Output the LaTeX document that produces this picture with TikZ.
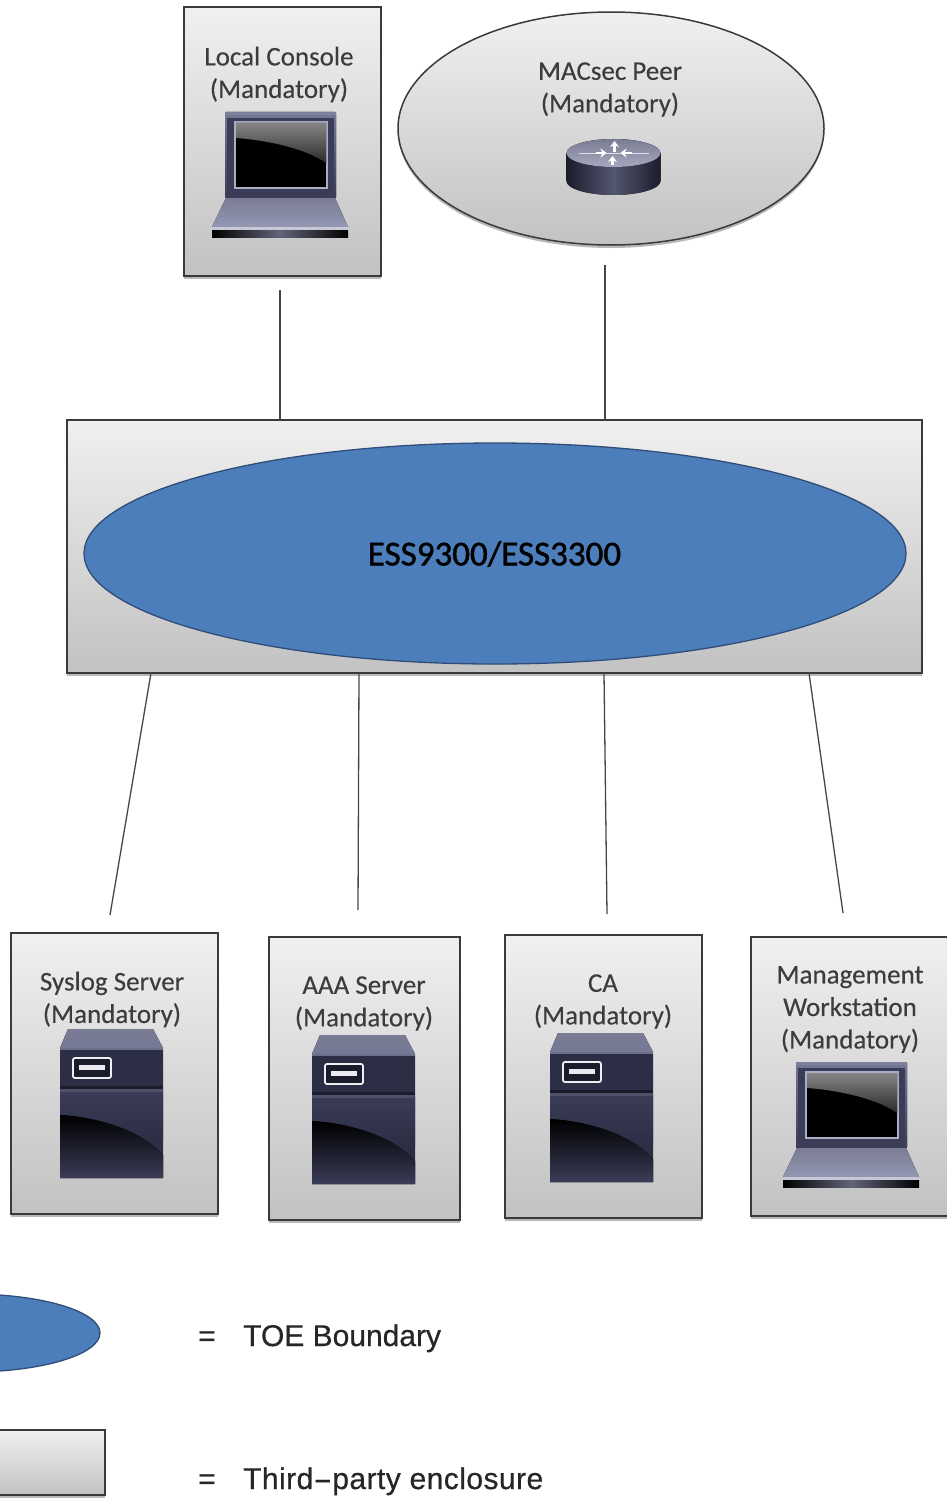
\documentclass[tikz,border=0pt]{standalone}
\usepackage{fontspec}
\usepackage{graphicx}
\setmainfont{Carlito}
\newfontfamily\legendfont[FakeBold=0.5]{Liberation Sans}
\newfontfamily\legendwide[FakeBold=0.5,LetterSpace=1.5]{Liberation Sans}
\newfontfamily\essfont[FakeBold=1.2]{Carlito}
\newfontfamily\labelfont[FakeBold=0.25]{Carlito}
\usetikzlibrary{shapes.geometric,shadows,arrows.meta}
\definecolor{edgegray}{HTML}{3A3A3A}
\definecolor{linegray}{HTML}{474747}
\definecolor{toeblue}{HTML}{4C7EBC}
\definecolor{toeedge}{HTML}{2F4D78}
\definecolor{encltop}{HTML}{F0F0F0}
\definecolor{enclbot}{HTML}{C2C2C2}
\definecolor{labelgray}{HTML}{3C3C3C}
\definecolor{devframe}{HTML}{3B3D58}
\definecolor{devlight}{HTML}{8F92AE}
\definecolor{devdark}{HTML}{1B1C2B}
\definecolor{devmid}{HTML}{2C2E45}
\definecolor{glasstop}{HTML}{858585}
\definecolor{glassbot}{HTML}{2A2A2A}
\tikzset{
  softshadow/.style={drop shadow={shadow xshift=0pt,shadow yshift=-3pt,opacity=.28,fill=black}},
  enclosure/.style={rectangle,draw=edgegray,line width=1.5pt,top color=encltop,bottom color=enclbot,
     inner sep=0pt,outer sep=0pt,anchor=north west,softshadow},
  toe/.style={ellipse,draw=toeedge,line width=1.3pt,fill=toeblue,inner sep=0pt,outer sep=0pt},
  peer/.style={ellipse,draw=edgegray,line width=1.5pt,top color=encltop,bottom color=enclbot,inner sep=0pt,outer sep=0pt,softshadow},
  boxlabel/.style={text=labelgray,font=\labelfont\fontsize{27}{32.5}\selectfont,align=center,inner sep=0pt},
  link/.style={draw=linegray,line width=1.3pt},
  legendtext/.style={text=black!85,font=\legendfont\fontsize{30}{32}\selectfont,anchor=base west,inner sep=0pt},
  laptop/.pic={
    % lid
    \fill[top color=devlight!70!devframe,bottom color=devframe,rounded corners=1pt] (0,0) rectangle (111,86);
    \fill[devframe] (2,6) rectangle (109,86);
    \fill[devlight!80!devframe] (0,0) rectangle (111,3);
    % screen bezel and glass
    \draw[devlight!75!white,line width=1.6pt,fill=black] (10,10) rectangle (102,76);
    \fill[top color=glasstop,bottom color=glassbot] (11,11) -- (101,11) -- (101,51) .. controls (80,36) and (40,28) .. (11,26) -- cycle;
    % keyboard deck
    \fill[top color=devlight!85!black,bottom color=devlight!95!white] (1,86) -- (110,86) -- (123,115) -- (-13,115) -- cycle;
    \fill[devlight!50!white] (-13,115) rectangle (123,118);
    \fill[left color=black,right color=black,middle color=devframe!80!white] (-13,118) rectangle (123,125);
  },
  server/.pic={
    % top face
    \fill[top color=devlight!85!black,bottom color=devlight!70!devframe] (8,0) -- (93,0) -- (103,19) -- (0,19) -- cycle;
    % body
    \fill[devmid,rounded corners=.8pt] (0,19) rectangle (103,149);
    \fill[top color=devframe,bottom color=devmid] (0,61) rectangle (103,110);
    \fill[devdark] (0,57) rectangle (103,60);
    \fill[devframe!90!white] (0,60) rectangle (103,63);
    \fill[devlight!60!devframe] (0,19) rectangle (103,20.5);
    % dark gloss
    \fill[top color=black,bottom color=devframe] (0,86) .. controls (35,88) and (80,100) .. (103,126) -- (103,149) -- (0,149) -- cycle;
    % badge
    \draw[white!85!devlight,line width=1.8pt,fill=devdark,rounded corners=2pt] (13,29) rectangle (51,49);
    \fill[white!80!devlight] (19,36) rectangle (45,41);
  },
  router/.pic={
    \fill[left color=devdark,right color=devdark,middle color=devframe!70!devlight] (-47,-14) -- (-47,14) arc[x radius=47,y radius=14,start angle=180,end angle=0] -- (47,-14) -- cycle;
    \fill[top color=devlight!85!black,bottom color=devlight!80!white] (0,-14) ellipse[x radius=47,y radius=14];
    \draw[white!70!devlight,line width=.7pt] (-35,-14) -- (35,-14);
    \draw[white,line width=2.4pt,-{Stealth[length=6pt,width=9pt]}] (1,-15) -- (1,-26);
    \draw[white,line width=2.4pt,-{Stealth[length=6pt,width=9pt]}] (-1,-2) -- (-1,-11);
    \draw[white,line width=2.4pt,{Stealth[length=6pt,width=9pt]}-] (-7,-14) -- (-18,-14);
    \draw[white,line width=2.4pt,{Stealth[length=6pt,width=9pt]}-] (7,-14) -- (18,-14);
  }
}
\begin{document}
\begin{tikzpicture}[x=1pt,y=-1pt]
\useasboundingbox (0,0) rectangle (947,1501);
\fill[white] (0,0) rectangle (947,1501);

% free ends of the connectors
\coordinate (consoleend) at (280,290);
\coordinate (peerend) at (605,265);
\coordinate (syslogend) at (110,915);
\coordinate (aaaend) at (358,910);
\coordinate (caend) at (607,914);
\coordinate (mgmtend) at (843,913);

% enclosures
\node[enclosure,minimum width=197pt,minimum height=269pt] (console) at (184,7) {};
\node[peer,minimum width=426pt,minimum height=233pt] (peer) at (611,128.5) {};
\node[enclosure,minimum width=855pt,minimum height=253pt] (essbox) at (67,420) {};
\node[toe,minimum width=822pt,minimum height=221pt] (ess) at (495,553.5) {};
\node[enclosure,minimum width=207pt,minimum height=281pt] (syslog) at (11,933) {};
\node[enclosure,minimum width=191pt,minimum height=283pt] (aaa) at (269,937) {};
\node[enclosure,minimum width=197pt,minimum height=283pt] (ca) at (505,935) {};
\node[enclosure,minimum width=210pt,minimum height=279pt] (mgmt) at (751,937) {};

% connectors
\draw[link] (consoleend) -- ([xshift=213pt]essbox.north west);
\draw[link] (peerend) -- ([xshift=538pt]essbox.north west);
\draw[link] ([xshift=84pt]essbox.south west) -- (syslogend);
\draw[link] ([xshift=292pt]essbox.south west) -- (aaaend);
\draw[link] ([xshift=537pt]essbox.south west) -- (caend);
\draw[link] ([xshift=742pt]essbox.south west) -- (mgmtend);

% device icons
\pic at (225,112) {laptop};
\pic at (796,1062) {laptop};
\pic at (60,1029) {server};
\pic at (312,1035) {server};
\pic at (550,1033) {server};
\pic at (613.5,167) {router};

% labels
\node[boxlabel] (consolelabel) at (279,74.5) {Local Console\\(Mandatory)};
\node[boxlabel] (peerlabel) at (610,89.5) {MACsec Peer\\(Mandatory)};
\node[boxlabel] (sysloglabel) at (112,999.5) {Syslog Server\\(Mandatory)};
\node[boxlabel] (aaalabel) at (364,1003.5) {AAA Server\\(Mandatory)};
\node[boxlabel] (calabel) at (603,1001.5) {CA\\(Mandatory)};
\node[boxlabel] (mgmtlabel) at (850,1009.5) {Management\\Workstation\\(Mandatory)};
\node[text=black,font=\essfont\fontsize{35}{36}\selectfont,inner sep=0pt] (esslabel) at (494.5,554) {ESS9300/ESS3300};

% legend
\node[toe,minimum width=260pt,minimum height=78pt] (legendtoe) at (-30,1333) {};
\node[enclosure,minimum width=125pt,minimum height=65pt] (legendbox) at (-20,1430) {};
\node[legendtext] (eqone) at (198,1346) {=};
\node[legendtext] (toetext) at (243,1346) {TOE Boundary};
\node[legendtext] (eqtwo) at (198,1489) {=};
\node[legendtext] (enctext) at (243,1489) {\legendwide Third\scalebox{1.9}[1]{-}party enclosure};
\end{tikzpicture}
\end{document}
